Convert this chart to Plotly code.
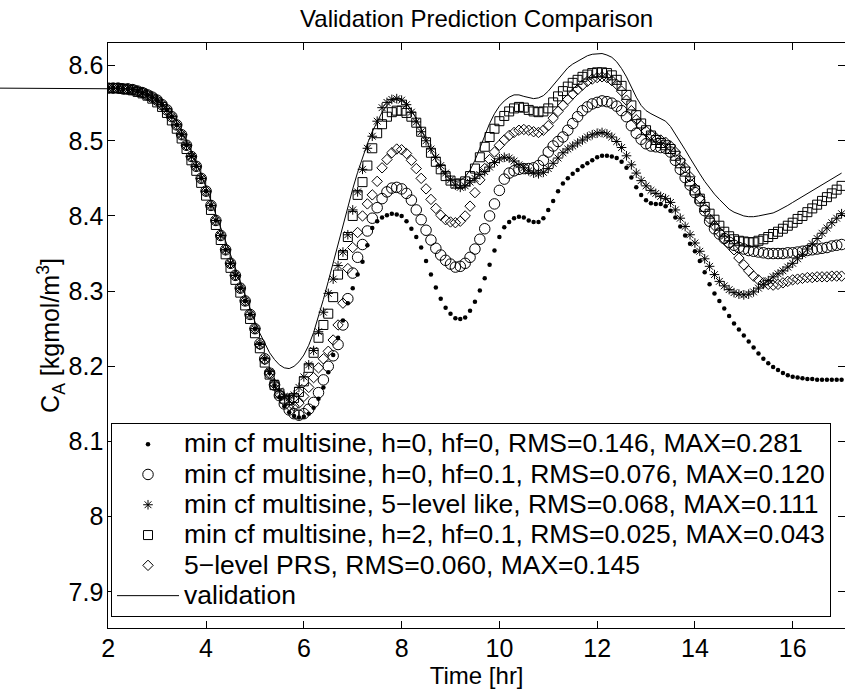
import plotly.graph_objects as go

# ---------------- data ----------------
time_hr = [round(2 + 0.1 * i, 1) for i in range(151)]  # 2.0 ... 17.0 hr sampling grid

dots_h0_hf0 = [
    8.570, 8.570, 8.570, 8.569, 8.569, 8.568, 8.566, 8.564, 8.561, 8.558,
    8.554, 8.548, 8.541, 8.532, 8.521, 8.508, 8.494, 8.479, 8.466, 8.450,
    8.433, 8.414, 8.394, 8.374, 8.355, 8.337, 8.321, 8.304, 8.287, 8.269,
    8.250, 8.230, 8.210, 8.191, 8.174, 8.159, 8.147, 8.139, 8.134, 8.132,
    8.133, 8.137, 8.145, 8.157, 8.172, 8.192, 8.215, 8.238, 8.261, 8.284,
    8.304, 8.322, 8.339, 8.361, 8.384, 8.393, 8.398, 8.401, 8.403, 8.402,
    8.400, 8.393, 8.383, 8.372, 8.358, 8.340, 8.322, 8.305, 8.290, 8.278,
    8.270, 8.264, 8.263, 8.265, 8.274, 8.286, 8.301, 8.317, 8.335, 8.354,
    8.372, 8.385, 8.392, 8.397, 8.399, 8.398, 8.394, 8.392, 8.392, 8.397,
    8.408, 8.420, 8.433, 8.443, 8.450, 8.456, 8.461, 8.466, 8.470, 8.474,
    8.478, 8.480, 8.480, 8.479, 8.477, 8.472, 8.464, 8.451, 8.438, 8.428,
    8.421, 8.417, 8.416, 8.416, 8.413, 8.407, 8.398, 8.386, 8.374, 8.363,
    8.353, 8.340, 8.325, 8.309, 8.297, 8.287, 8.277, 8.267, 8.257, 8.249,
    8.241, 8.233, 8.225, 8.217, 8.210, 8.204, 8.199, 8.195, 8.191, 8.188,
    8.186, 8.185, 8.184, 8.183, 8.183, 8.182, 8.182, 8.182, 8.182, 8.182,
    8.182,
]

circles_h0_hf01 = [
    8.570, 8.570, 8.570, 8.569, 8.569, 8.568, 8.566, 8.564, 8.561, 8.558,
    8.554, 8.548, 8.541, 8.532, 8.521, 8.508, 8.494, 8.479, 8.466, 8.450,
    8.433, 8.414, 8.394, 8.374, 8.355, 8.337, 8.321, 8.304, 8.287, 8.269,
    8.250, 8.230, 8.210, 8.191, 8.175, 8.161, 8.150, 8.142, 8.137, 8.135,
    8.137, 8.143, 8.152, 8.165, 8.182, 8.200, 8.214, 8.229, 8.255, 8.290,
    8.324, 8.345, 8.362, 8.380, 8.397, 8.411, 8.423, 8.432, 8.437, 8.438,
    8.436, 8.430, 8.421, 8.408, 8.395, 8.381, 8.368, 8.357, 8.348, 8.341,
    8.336, 8.332, 8.333, 8.337, 8.345, 8.356, 8.369, 8.383, 8.400, 8.416,
    8.434, 8.449, 8.457, 8.460, 8.462, 8.463, 8.463, 8.464, 8.467, 8.474,
    8.485, 8.493, 8.499, 8.505, 8.514, 8.523, 8.532, 8.540, 8.545, 8.549,
    8.551, 8.553, 8.552, 8.550, 8.546, 8.540, 8.532, 8.520, 8.510, 8.502,
    8.496, 8.493, 8.492, 8.491, 8.490, 8.485, 8.474, 8.462, 8.451, 8.441,
    8.431, 8.420, 8.407, 8.393, 8.383, 8.376, 8.370, 8.365, 8.361, 8.358,
    8.356, 8.354, 8.353, 8.352, 8.351, 8.350, 8.350, 8.350, 8.350, 8.351,
    8.351, 8.352, 8.353, 8.354, 8.355, 8.356, 8.357, 8.358, 8.360, 8.361,
    8.362,
]

stars_5level_like = [
    8.570, 8.570, 8.570, 8.569, 8.569, 8.568, 8.566, 8.564, 8.561, 8.558,
    8.554, 8.548, 8.541, 8.532, 8.521, 8.508, 8.494, 8.479, 8.466, 8.450,
    8.433, 8.414, 8.394, 8.374, 8.355, 8.337, 8.321, 8.304, 8.287, 8.269,
    8.250, 8.229, 8.210, 8.193, 8.178, 8.167, 8.160, 8.158, 8.162, 8.172,
    8.186, 8.202, 8.221, 8.246, 8.272, 8.297, 8.316, 8.334, 8.352, 8.375,
    8.408, 8.432, 8.462, 8.490, 8.506, 8.526, 8.544, 8.551, 8.555, 8.556,
    8.554, 8.548, 8.538, 8.525, 8.512, 8.500, 8.489, 8.478, 8.467, 8.457,
    8.448, 8.441, 8.438, 8.440, 8.445, 8.450, 8.455, 8.459, 8.465, 8.471,
    8.476, 8.478, 8.477, 8.473, 8.468, 8.464, 8.460, 8.457, 8.456, 8.458,
    8.463, 8.470, 8.477, 8.484, 8.489, 8.493, 8.497, 8.501, 8.505, 8.508,
    8.510, 8.511, 8.509, 8.505, 8.499, 8.491, 8.480, 8.468, 8.457, 8.447,
    8.440, 8.434, 8.430, 8.426, 8.423, 8.418, 8.408, 8.397, 8.386, 8.375,
    8.364, 8.353, 8.343, 8.333, 8.322, 8.313, 8.307, 8.302, 8.298, 8.296,
    8.295, 8.296, 8.299, 8.304, 8.309, 8.314, 8.319, 8.323, 8.327, 8.332,
    8.337, 8.343, 8.349, 8.356, 8.363, 8.370, 8.377, 8.384, 8.391, 8.397,
    8.403,
]

squares_h2_hf01 = [
    8.570, 8.570, 8.570, 8.569, 8.568, 8.567, 8.565, 8.563, 8.560, 8.556,
    8.551, 8.545, 8.537, 8.527, 8.516, 8.503, 8.489, 8.474, 8.460, 8.444,
    8.427, 8.408, 8.388, 8.368, 8.349, 8.331, 8.315, 8.298, 8.281, 8.263,
    8.244, 8.224, 8.205, 8.189, 8.175, 8.164, 8.157, 8.155, 8.158, 8.166,
    8.180, 8.198, 8.218, 8.238, 8.255, 8.270, 8.292, 8.322, 8.348, 8.372,
    8.400, 8.428, 8.445, 8.467, 8.490, 8.510, 8.522, 8.532, 8.538, 8.540,
    8.540, 8.537, 8.532, 8.524, 8.512, 8.498, 8.484, 8.472, 8.462, 8.453,
    8.447, 8.443, 8.443, 8.446, 8.453, 8.463, 8.478, 8.492, 8.505, 8.516,
    8.526, 8.533, 8.539, 8.543, 8.545, 8.544, 8.541, 8.539, 8.538, 8.539,
    8.543, 8.551, 8.559, 8.566, 8.572, 8.577, 8.581, 8.585, 8.588, 8.590,
    8.591, 8.591, 8.590, 8.587, 8.581, 8.573, 8.561, 8.547, 8.534, 8.523,
    8.514, 8.507, 8.501, 8.497, 8.494, 8.489, 8.480, 8.470, 8.459, 8.446,
    8.434, 8.423, 8.412, 8.403, 8.395, 8.387, 8.379, 8.373, 8.369, 8.367,
    8.366, 8.365, 8.365, 8.367, 8.369, 8.372, 8.376, 8.379, 8.383, 8.387,
    8.391, 8.396, 8.400, 8.405, 8.410, 8.415, 8.420, 8.425, 8.430, 8.435,
    8.440,
]

diamonds_5level_prs = [
    8.570, 8.570, 8.570, 8.569, 8.569, 8.568, 8.566, 8.564, 8.561, 8.558,
    8.554, 8.548, 8.541, 8.532, 8.521, 8.508, 8.494, 8.479, 8.466, 8.450,
    8.433, 8.414, 8.394, 8.374, 8.355, 8.337, 8.321, 8.304, 8.287, 8.269,
    8.250, 8.229, 8.209, 8.191, 8.176, 8.163, 8.154, 8.148, 8.147, 8.151,
    8.160, 8.172, 8.185, 8.198, 8.210, 8.220, 8.235, 8.255, 8.284, 8.330,
    8.358, 8.378, 8.400, 8.416, 8.428, 8.446, 8.464, 8.475, 8.484, 8.489,
    8.488, 8.483, 8.474, 8.463, 8.450, 8.436, 8.422, 8.410, 8.401, 8.395,
    8.392, 8.391, 8.393, 8.400, 8.413, 8.431, 8.448, 8.463, 8.475, 8.485,
    8.494, 8.501, 8.507, 8.511, 8.514, 8.515, 8.514, 8.512, 8.511, 8.514,
    8.520, 8.530, 8.539, 8.547, 8.555, 8.562, 8.568, 8.574, 8.579, 8.582,
    8.584, 8.585, 8.584, 8.580, 8.575, 8.566, 8.554, 8.540, 8.528, 8.520,
    8.513, 8.508, 8.504, 8.501, 8.498, 8.493, 8.485, 8.474, 8.464, 8.452,
    8.437, 8.424, 8.410, 8.396, 8.387, 8.378, 8.369, 8.362, 8.355, 8.344,
    8.335, 8.327, 8.320, 8.315, 8.311, 8.309, 8.308, 8.309, 8.311, 8.313,
    8.315, 8.316, 8.317, 8.318, 8.318, 8.319, 8.319, 8.319, 8.320, 8.320,
    8.320,
]

# validation record also has an earlier steady-state sample before t = 2 hr
validation_time = [-0.3] + time_hr
validation = [8.570] + [
    8.570, 8.570, 8.570, 8.570, 8.569, 8.568, 8.567, 8.565, 8.562, 8.559,
    8.555, 8.550, 8.543, 8.535, 8.525, 8.513, 8.500, 8.486, 8.471, 8.455,
    8.438, 8.420, 8.402, 8.384, 8.366, 8.348, 8.330, 8.312, 8.294, 8.276,
    8.259, 8.244, 8.230, 8.218, 8.209, 8.202, 8.198, 8.197, 8.200, 8.206,
    8.215, 8.228, 8.245, 8.266, 8.289, 8.313, 8.338, 8.363, 8.388, 8.412,
    8.436, 8.458, 8.478, 8.496, 8.512, 8.526, 8.538, 8.547, 8.553, 8.556,
    8.555, 8.550, 8.541, 8.529, 8.515, 8.501, 8.487, 8.474, 8.463, 8.454,
    8.448, 8.446, 8.447, 8.452, 8.461, 8.474, 8.490, 8.507, 8.523, 8.536,
    8.546, 8.553, 8.558, 8.561, 8.561, 8.559, 8.557, 8.556, 8.557, 8.560,
    8.566, 8.574, 8.582, 8.590, 8.597, 8.602, 8.606, 8.610, 8.613, 8.615,
    8.616, 8.616, 8.614, 8.611, 8.605, 8.596, 8.585, 8.571, 8.558, 8.547,
    8.540, 8.536, 8.533, 8.530, 8.526, 8.519, 8.509, 8.499, 8.488, 8.477,
    8.466, 8.456, 8.446, 8.437, 8.429, 8.422, 8.415, 8.409, 8.405, 8.402,
    8.400, 8.399, 8.399, 8.400, 8.401, 8.402, 8.404, 8.407, 8.410, 8.414,
    8.418, 8.422, 8.426, 8.430, 8.434, 8.438, 8.442, 8.446, 8.450, 8.454,
    8.457,
]

series_names = [
    "min cf multisine, h=0, hf=0, RMS=0.146, MAX=0.281",
    "min cf multisine, h=0, hf=0.1, RMS=0.076, MAX=0.120",
    "min cf multisine, 5\u2212level like, RMS=0.068, MAX=0.111",
    "min cf multisine, h=2, hf=0.1, RMS=0.025, MAX=0.043",
    "5\u2212level PRS, RMS=0.060, MAX=0.145",
    "validation",
]

x_tick_vals = [2, 4, 6, 8, 10, 12, 14, 16]
x_tick_text = ["2", "4", "6", "8", "10", "12", "14", "16"]
y_tick_vals = [7.9, 8.0, 8.1, 8.2, 8.3, 8.4, 8.5, 8.6]
y_tick_text = ["7.9", "8", "8.1", "8.2", "8.3", "8.4", "8.5", "8.6"]

# ---------------- layout constants ----------------
W, H = 845, 694
FONT = "Liberation Sans, Arial, Helvetica, sans-serif"
x_range = [2, 17.07]
y_range = [7.852, 8.63]
plot_left_px = 108.3
d0 = plot_left_px / W
m_top, m_bot = 43, 66
# overlay axis (full width) for the validation line, which runs past the left spine
x2_lo = x_range[0] - d0 * (x_range[1] - x_range[0]) / (1 - d0)

LEGEND_ROW_FONT = 21     # sets legend row spacing
LEGEND_TEXT_PX = 26.5    # visible legend text size


def legend_label(s):
    return '<span style="font-size:%spx">%s</span>' % (LEGEND_TEXT_PX, s)


fig = go.Figure()

mk_line = dict(color="black", width=1)
specs = [
    (dots_h0_hf0, dict(symbol="circle", size=4.5, color="black", line=dict(width=0))),
    (circles_h0_hf01, dict(symbol="circle-open", size=10.5, color="black", line=mk_line)),
    (stars_5level_like, dict(symbol="asterisk-open", size=8, color="black", line=mk_line)),
    (squares_h2_hf01, dict(symbol="square-open", size=9, color="black", line=mk_line)),
    (diamonds_5level_prs, dict(symbol="diamond-open", size=8, color="black", line=mk_line)),
]
for (vals, mk), name in zip(specs, series_names[:5]):
    fig.add_trace(go.Scatter(x=time_hr, y=vals, mode="markers", name=legend_label(name),
                             marker=mk, xaxis="x", yaxis="y"))

fig.add_trace(go.Scatter(x=validation_time, y=validation, mode="lines",
                         name=legend_label(series_names[5]),
                         line=dict(color="black", width=1),
                         xaxis="x2", yaxis="y2"))

axis_common = dict(showline=True, linecolor="black", linewidth=1, mirror="ticks",
                   ticks="inside", ticklen=7, tickcolor="black", tickwidth=1,
                   showgrid=False, zeroline=False,
                   tickfont=dict(family=FONT, size=25, color="black"))

fig.update_layout(
    width=W, height=H,
    margin=dict(l=0, r=0, t=m_top, b=m_bot, pad=0),
    paper_bgcolor="white", plot_bgcolor="rgba(0,0,0,0)",
    font=dict(family=FONT, color="black"),
    title=dict(text="Validation Prediction Comparison", x=(d0 + 1) / 2, xref="paper",
               xanchor="center", y=1 - 19 / H, yref="container", yanchor="middle",
               font=dict(family=FONT, size=24, color="black")),
    xaxis=dict(domain=[d0, 1], range=x_range, tickvals=x_tick_vals, ticktext=x_tick_text,
               title=dict(text="Time [hr]", font=dict(family=FONT, size=24), standoff=2),
               anchor="y", automargin=False, ticklabelstandoff=-2, **axis_common),
    yaxis=dict(domain=[0, 1], range=y_range, tickvals=y_tick_vals, ticktext=y_tick_text,
               title=dict(text="C<sub>A</sub> [kgmol/m<sup>3</sup>]",
                          font=dict(family=FONT, size=25), standoff=0),
               anchor="x", automargin=False, ticklabelstandoff=-1, **axis_common),
    xaxis2=dict(domain=[0, 1], range=[x2_lo, x_range[1]], anchor="y2", visible=False),
    yaxis2=dict(domain=[0, 1], range=y_range, anchor="x2", visible=False),
    legend=dict(x=111 / W, xanchor="left", y=(H - m_bot - 423) / (H - m_top - m_bot),
                yanchor="top", bgcolor="white", bordercolor="black", borderwidth=1,
                font=dict(family=FONT, size=LEGEND_ROW_FONT, color="black"), itemwidth=62,
                tracegroupgap=0),
    showlegend=True,
)

fig.write_html("out.html",
               config={"displayModeBar": False},
               post_script="document.body.style.margin='0px';"
                           "document.body.style.overflow='hidden';")
